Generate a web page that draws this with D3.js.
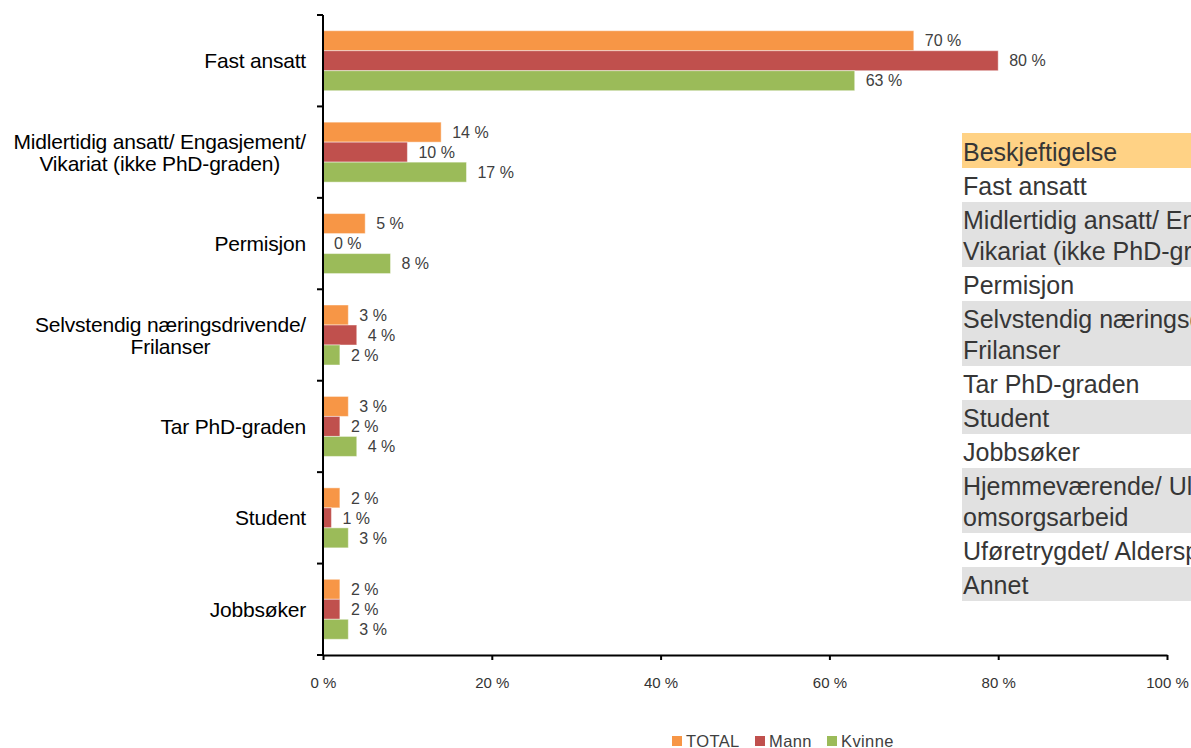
<!DOCTYPE html>
<html><head><meta charset="utf-8">
<script src="https://cdn.jsdelivr.net/npm/d3@7"></script>
<style>
html,body{margin:0;padding:0;background:#fff;overflow:hidden}
svg{display:block;font-family:"Liberation Sans",Arial,sans-serif}
</style></head>
<body>
<svg id="c" width="1191" height="748"></svg>
<script>
const categories = [
  ["Fast ansatt"],
  ["Midlertidig ansatt/ Engasjement/", "Vikariat (ikke PhD-graden)"],
  ["Permisjon"],
  ["Selvstendig næringsdrivende/", "Frilanser"],
  ["Tar PhD-graden"],
  ["Student"],
  ["Jobbsøker"]
];
const seriesNames = ["TOTAL", "Mann", "Kvinne"];
const totalValues  = [70, 14, 5, 3, 3, 2, 2];
const mannValues   = [80, 10, 0, 4, 2, 1, 2];
const kvinneValues = [63, 17, 8, 2, 4, 3, 3];
const xTicks = [0, 20, 40, 60, 80, 100];
const tableHeader = "Beskjeftigelse";
const tableRows = [
  ["Fast ansatt"],
  ["Midlertidig ansatt/ Engasjement/", "Vikariat (ikke PhD-graden)"],
  ["Permisjon"],
  ["Selvstendig næringsdrivende/", "Frilanser"],
  ["Tar PhD-graden"],
  ["Student"],
  ["Jobbsøker"],
  ["Hjemmeværende/ Ulønnet", "omsorgsarbeid"],
  ["Uføretrygdet/ Alderspensjonist"],
  ["Annet"]
];

const colors = {"TOTAL": "#F79646", "Mann": "#C0504D", "Kvinne": "#9BBB59"};
const seriesValues = {"TOTAL": totalValues, "Mann": mannValues, "Kvinne": kvinneValues};

const svg = d3.select("#c");
const catKeys = categories.map(c => c.join(" "));

const x = d3.scaleLinear().domain([0, 100]).range([323, 1167]);
const y0 = d3.scaleBand().domain(catKeys).range([15, 655]).paddingInner(0).paddingOuter(0);
const y1 = d3.scaleBand().domain(seriesNames).range([0, y0.bandwidth()]).paddingInner(0).paddingOuter(0.786);

// table (behind chart)
const tbl = svg.append("g");
const lineH = 31, rowPad = 3, tblX = 962, tblTop = 133;
let ty = tblTop;
const allRows = [[tableHeader]].concat(tableRows);
allRows.forEach((r, i) => {
  const h = r.length * lineH + rowPad + (i === 0 ? 1 : 0);
  const fill = i === 0 ? "#FFD285" : (i % 2 === 0 ? "#E1E1E1" : "#FFFFFF");
  tbl.append("rect").attr("x", tblX).attr("y", ty).attr("width", 400).attr("height", h).attr("fill", fill);
  r.forEach((line, j) => {
    tbl.append("text").attr("x", tblX + 1).attr("y", ty + 27 + j * lineH + (i === 0 ? 1 : 0))
      .attr("font-size", 25).attr("fill", "#363636").text(line);
  });
  ty += h;
});

// bars
const groups = svg.append("g").selectAll("g").data(catKeys).join("g")
  .attr("transform", d => `translate(0,${y0(d)})`);
seriesNames.forEach(s => {
  groups.append("rect")
    .attr("x", x(0))
    .attr("y", y1(s))
    .attr("width", (d, i) => x(seriesValues[s][i]) - x(0))
    .attr("height", y1.bandwidth())
    .attr("fill", colors[s])
    .attr("stroke", "rgba(255,255,255,0.45)")
    .attr("stroke-width", 1);
  groups.append("text")
    .attr("x", (d, i) => x(seriesValues[s][i]) + 11)
    .attr("y", y1(s) + y1.bandwidth() / 2)
    .attr("dy", "0.36em")
    .attr("font-size", 16)
    .attr("fill", "#404040")
    .text((d, i) => seriesValues[s][i] + " %");
});

// x axis
const xAxis = d3.axisBottom(x).tickValues(xTicks).tickFormat(d => d + " %")
  .tickSize(5).tickSizeOuter(0).tickPadding(17);
const gx = svg.append("g").attr("transform", "translate(0,655)").call(xAxis);
gx.select(".domain").attr("stroke", "#000").attr("stroke-width", 2);
gx.selectAll(".tick line").attr("stroke", "#000").attr("stroke-width", 2);
gx.selectAll(".tick text").attr("font-size", 15).attr("fill", "#333").attr("font-family", "Liberation Sans, Arial, sans-serif");

// y axis
const yg = svg.append("g");
yg.append("line").attr("x1", x(0)).attr("x2", x(0)).attr("y1", y0.range()[0]).attr("y2", y0.range()[1] + 1)
  .attr("stroke", "#000").attr("stroke-width", 2);
const bounds = catKeys.map(k => y0(k)).concat([y0.range()[1]]);
yg.selectAll("line.t").data(bounds).join("line").attr("class", "t")
  .attr("x1", x(0) - 6).attr("x2", x(0)).attr("y1", d => d).attr("y2", d => d)
  .attr("stroke", "#000").attr("stroke-width", 2);

// category labels: block right aligned, lines centered within block
categories.forEach((lines, i) => {
  const cy = y0(catKeys[i]) + y0.bandwidth() / 2;
  const g = svg.append("g");
  const texts = lines.map((l, j) => g.append("text")
    .attr("font-size", 21).attr("fill", "#000").attr("letter-spacing", "-0.2")
    .attr("y", cy + (j - (lines.length - 1) / 2) * 22).attr("dy", "0.36em").text(l));
  const widths = texts.map(t => t.node().getComputedTextLength());
  const maxW = Math.max(...widths);
  const right = 306;
  texts.forEach(t => t.attr("x", right - maxW / 2).attr("text-anchor", "middle"));
});

// legend
const legendX = [672, 755, 827];
const lg = svg.append("g");
seriesNames.forEach((s, i) => {
  lg.append("rect").attr("x", legendX[i]).attr("y", 736).attr("width", 10).attr("height", 10).attr("fill", colors[s]);
  lg.append("text").attr("x", legendX[i] + 14).attr("y", 747).attr("font-size", 16.5).attr("fill", "#404040")
    .attr("letter-spacing", "0.4").text(s);
});
</script>
</body></html>
